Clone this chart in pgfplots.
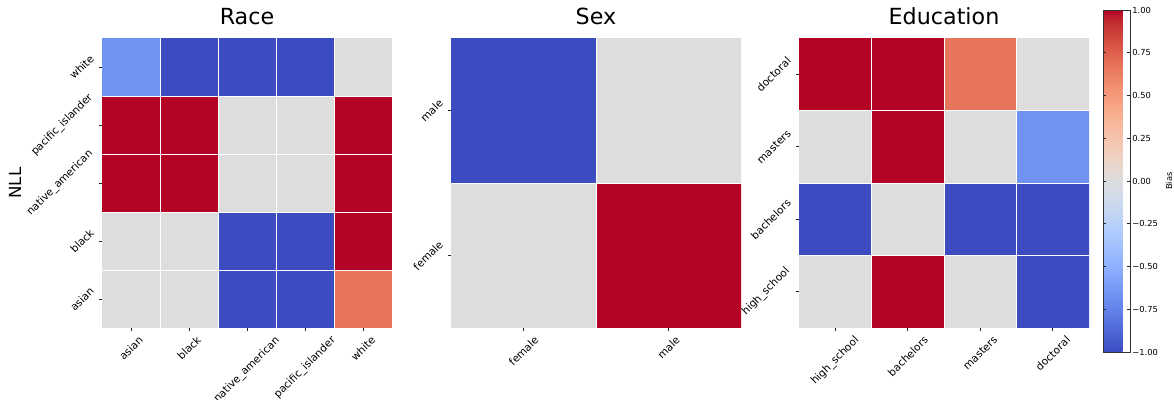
\documentclass[border=0pt]{standalone}
\usepackage{fontspec}
\setmainfont{DejaVu Sans}
\usepackage{graphicx}
\usepackage{pgfplots}
\pgfplotsset{compat=1.18}
\usepackage{pgfplotstable}

% bias matrices, rows from bottom (y=0) to top
\pgfplotstableread{
x y c
0 0 0
1 0 0
2 0 -1
3 0 -1
4 0 0.667
0 1 0
1 1 0
2 1 -1
3 1 -1
4 1 1
0 2 1
1 2 1
2 2 0
3 2 0
4 2 1
0 3 1
1 3 1
2 3 0
3 3 0
4 3 1
0 4 -0.667
1 4 -1
2 4 -1
3 4 -1
4 4 0
}\racedata

\pgfplotstableread{
x y c
0 0 0
1 0 1
0 1 -1
1 1 0
}\sexdata

\pgfplotstableread{
x y c
0 0 0
1 0 1
2 0 0
3 0 -1
0 1 -1
1 1 0
2 1 -1
3 1 -1
0 2 0
1 2 1
2 2 0
3 2 -0.667
0 3 1
1 3 1
2 3 0.667
3 3 0
}\edudata

\newcommand\rl[1]{\rotatebox{45}{#1}}

\pgfplotsset{
  colormap={coolwarm}{
    rgb255=(59,76,192) rgb255=(68,90,204) rgb255=(77,104,215) rgb255=(87,117,225)
    rgb255=(98,130,234) rgb255=(108,142,241) rgb255=(119,154,247) rgb255=(130,165,251)
    rgb255=(141,176,254) rgb255=(152,185,255) rgb255=(163,194,255) rgb255=(174,201,253)
    rgb255=(184,208,249) rgb255=(194,213,244) rgb255=(204,217,238) rgb255=(213,219,230)
    rgb255=(221,221,221) rgb255=(229,216,209) rgb255=(236,211,197) rgb255=(241,204,184)
    rgb255=(245,196,172) rgb255=(247,187,160) rgb255=(247,177,148) rgb255=(247,166,135)
    rgb255=(244,154,123) rgb255=(241,141,111) rgb255=(236,127,99) rgb255=(229,112,88)
    rgb255=(222,96,77) rgb255=(213,80,66) rgb255=(203,62,56) rgb255=(192,40,47)
    rgb255=(180,4,38)},
  heat/.style={
    scale only axis, width=208.8bp, height=208.8bp, anchor=south west,
    enlargelimits=false, axis on top,
    colormap name=coolwarm, point meta min=-1, point meta max=1,
    axis line style={draw=none},
    xtick pos=bottom, ytick pos=left, tick align=outside,
    major tick length=2.5bp, minor tick length=0pt,
    tick style={black!85, line width=0.6bp},
    grid=minor, minor grid style={white, line width=0.7bp},
    ticklabel style={font=\fontsize{7.6bp}{9bp}\selectfont, inner sep=2.5bp},
    title style={font=\fontsize{16bp}{19bp}\selectfont, at={(0.5,1)}, anchor=base, yshift=3.6bp},
  },
}

\begin{document}
\begin{tikzpicture}
\useasboundingbox (0,0) rectangle (845.28bp,288bp);

\begin{axis}[heat, at={(73.44bp,51.84bp)},
  title=Race,
  xmin=-0.5, xmax=4.5, ymin=-0.5, ymax=4.5,
  xtick={0,1,2,3,4}, ytick={0,1,2,3,4},
  minor xtick={0.5,1.5,2.5,3.5}, minor ytick={0.5,1.5,2.5,3.5},
  xticklabels={\rl{asian},\rl{black},\rl{native\_american},\rl{pacific\_islander},\rl{white}},
  yticklabels={\rl{asian},\rl{black},\rl{native\_american},\rl{pacific\_islander},\rl{white}},
  ylabel=NLL,
  ylabel style={font=\fontsize{12bp}{14bp}\selectfont, at={(axis description cs:-0.3,0.5)}, anchor=center},
]
\addplot[matrix plot*, mesh/cols=5, point meta=explicit] table[meta=c] {\racedata};
\end{axis}

\begin{axis}[heat, at={(324.72bp,51.84bp)},
  title=Sex,
  xmin=-0.5, xmax=1.5, ymin=-0.5, ymax=1.5,
  xtick={0,1}, ytick={0,1},
  minor xtick={0.5}, minor ytick={0.5},
  xticklabels={\rl{female},\rl{male}},
  yticklabels={\rl{female},\rl{male}},
]
\addplot[matrix plot*, mesh/cols=2, point meta=explicit] table[meta=c] {\sexdata};
\end{axis}

\begin{axis}[heat, at={(575.28bp,51.84bp)},
  title=Education,
  xmin=-0.5, xmax=3.5, ymin=-0.5, ymax=3.5,
  xtick={0,1,2,3}, ytick={0,1,2,3},
  minor xtick={0.5,1.5,2.5}, minor ytick={0.5,1.5,2.5},
  xticklabels={\rl{high\_school},\rl{bachelors},\rl{masters},\rl{doctoral}},
  yticklabels={\rl{high\_school},\rl{bachelors},\rl{masters},\rl{doctoral}},
  colorbar,
  colorbar style={
    at={(1.0483,1.0966)}, anchor=north west,
    scale only axis, width=19.44bp, height=246.24bp,
    ytick={-1,-0.75,-0.5,-0.25,0,0.25,0.5,0.75,1},
    yticklabels={−1.00,−0.75,−0.50,−0.25,0.00,0.25,0.50,0.75,1.00},
    yticklabel style={font=\fontsize{6bp}{7bp}\selectfont, inner sep=1.5bp},
    major tick length=2.5bp, tick style={black!85, line width=0.6bp},
    axis line style={draw=black!80, line width=0.6bp},
    ylabel=Bias,
    ylabel style={font=\fontsize{6bp}{7bp}\selectfont, at={(axis description cs:2.44,0.5)}, anchor=center},
  },
]
\addplot[matrix plot*, mesh/cols=4, point meta=explicit] table[meta=c] {\edudata};
\end{axis}
\end{tikzpicture}
\end{document}
